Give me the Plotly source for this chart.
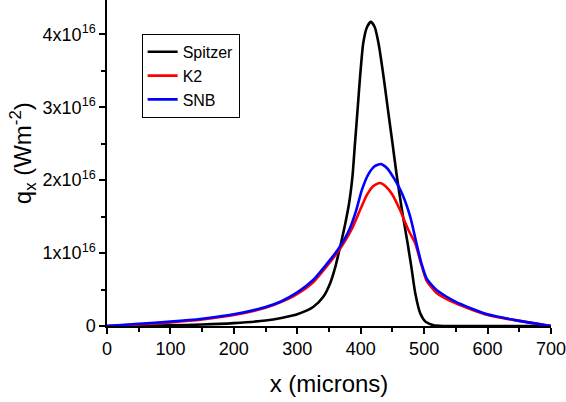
import plotly.graph_objects as go

# Spitzer heat flux
x_spitzer = [0, 50, 100, 150, 200, 250, 275, 300, 325, 341, 352, 360, 365, 370, 376, 382, 387,
             391, 395, 399, 404, 410, 416, 422, 428, 436, 443, 450, 457, 465, 474, 480, 486, 494,
             502, 515, 530, 600, 700]
q_spitzer = [0, 0, 0.01, 0.02, 0.04, 0.075, 0.11, 0.16, 0.26, 0.40, 0.59, 0.81, 0.99, 1.18, 1.42,
             1.70, 2.05, 2.51, 2.96, 3.42, 3.88, 4.10, 4.17, 4.10, 3.88, 3.42, 2.96, 2.51, 2.05,
             1.59, 1.13, 0.80, 0.45, 0.17, 0.06, 0.01, 0, 0, 0]

# K2
x_k2 = [0, 50, 100, 150, 200, 250, 275, 300, 325, 352, 365, 375, 386, 399, 410, 420, 430, 440,
        450, 462, 475, 486, 496, 504, 520, 550, 600, 650, 700]
q_k2 = [0, 0.02, 0.05, 0.09, 0.15, 0.25, 0.33, 0.44, 0.60, 0.88, 1.03, 1.16, 1.33, 1.59, 1.80,
        1.92, 1.96, 1.91, 1.80, 1.59, 1.32, 1.13, 0.83, 0.62, 0.45, 0.31, 0.15, 0.07, 0]

# SNB
x_snb = [0, 50, 100, 150, 200, 250, 275, 300, 325, 352, 365, 375, 383, 392, 402, 412, 422, 432,
         442, 452, 465, 478, 488, 496, 504, 520, 550, 600, 650, 700]
q_snb = [0, 0.03, 0.06, 0.10, 0.16, 0.26, 0.34, 0.46, 0.63, 0.91, 1.06, 1.20, 1.34, 1.56, 1.87,
         2.08, 2.19, 2.22, 2.16, 2.03, 1.82, 1.50, 1.13, 0.85, 0.65, 0.49, 0.33, 0.16, 0.07, 0]

scale = 1e16
y_tickvals = [0, 1e16, 2e16, 3e16, 4e16]
y_ticktext = ["0", "1x10<sup>16</sup>", "2x10<sup>16</sup>", "3x10<sup>16</sup>", "4x10<sup>16</sup>"]

fig = go.Figure()
for name, xs, qs, col in [("Spitzer", x_spitzer, q_spitzer, "black"),
                          ("K2", x_k2, q_k2, "red"),
                          ("SNB", x_snb, q_snb, "blue")]:
    fig.add_trace(go.Scatter(x=xs, y=[v * scale for v in qs], name=name, mode="lines",
                             line=dict(color=col, width=2.6, shape="spline", smoothing=0.6)))

fig.update_layout(
    width=566, height=402,
    margin=dict(l=107, r=15, t=0, b=76),
    paper_bgcolor="white", plot_bgcolor="white",
    font=dict(family="Liberation Sans, Arial", size=18, color="black"),
    legend=dict(x=0.078, y=0.896, xanchor="left", yanchor="top",
                bordercolor="black", borderwidth=1, bgcolor="white",
                font=dict(size=16), tracegroupgap=0),
)
fig.update_xaxes(
    range=[0, 700], dtick=100, tick0=0, automargin=False, ticklabeloverflow="allow",
    showline=True, linecolor="black", linewidth=1.5, showgrid=False, zeroline=False,
    ticks="outside", ticklen=6, tickwidth=1.5, tickcolor="black",
    minor=dict(dtick=50, tick0=0, ticks="outside", ticklen=4, tickwidth=1.5, tickcolor="black"),
    title=dict(text="x (microns)", font=dict(size=24), standoff=17),
)
fig.update_yaxes(
    range=[0, 4.47e16], tickvals=y_tickvals, ticktext=y_ticktext, automargin=False,
    showline=True, linecolor="black", linewidth=1.5, showgrid=False, zeroline=False,
    ticks="outside", ticklen=6, tickwidth=1.5, tickcolor="black",
    minor=dict(dtick=0.5e16, tick0=0, ticks="outside", ticklen=4, tickwidth=1.5, tickcolor="black"),
)
# y title as an annotation so it can sit a little above the axis centre, as in the original
fig.add_annotation(text="q<sub>x</sub> (Wm<sup>-2</sup>)", textangle=-90, showarrow=False,
                   xref="paper", yref="paper", x=0, y=0.53, xanchor="center", yanchor="middle",
                   xshift=-84, font=dict(size=24))

fig.write_html("out.html", config={"displayModeBar": False},
               post_script="document.body.style.margin='0';")
